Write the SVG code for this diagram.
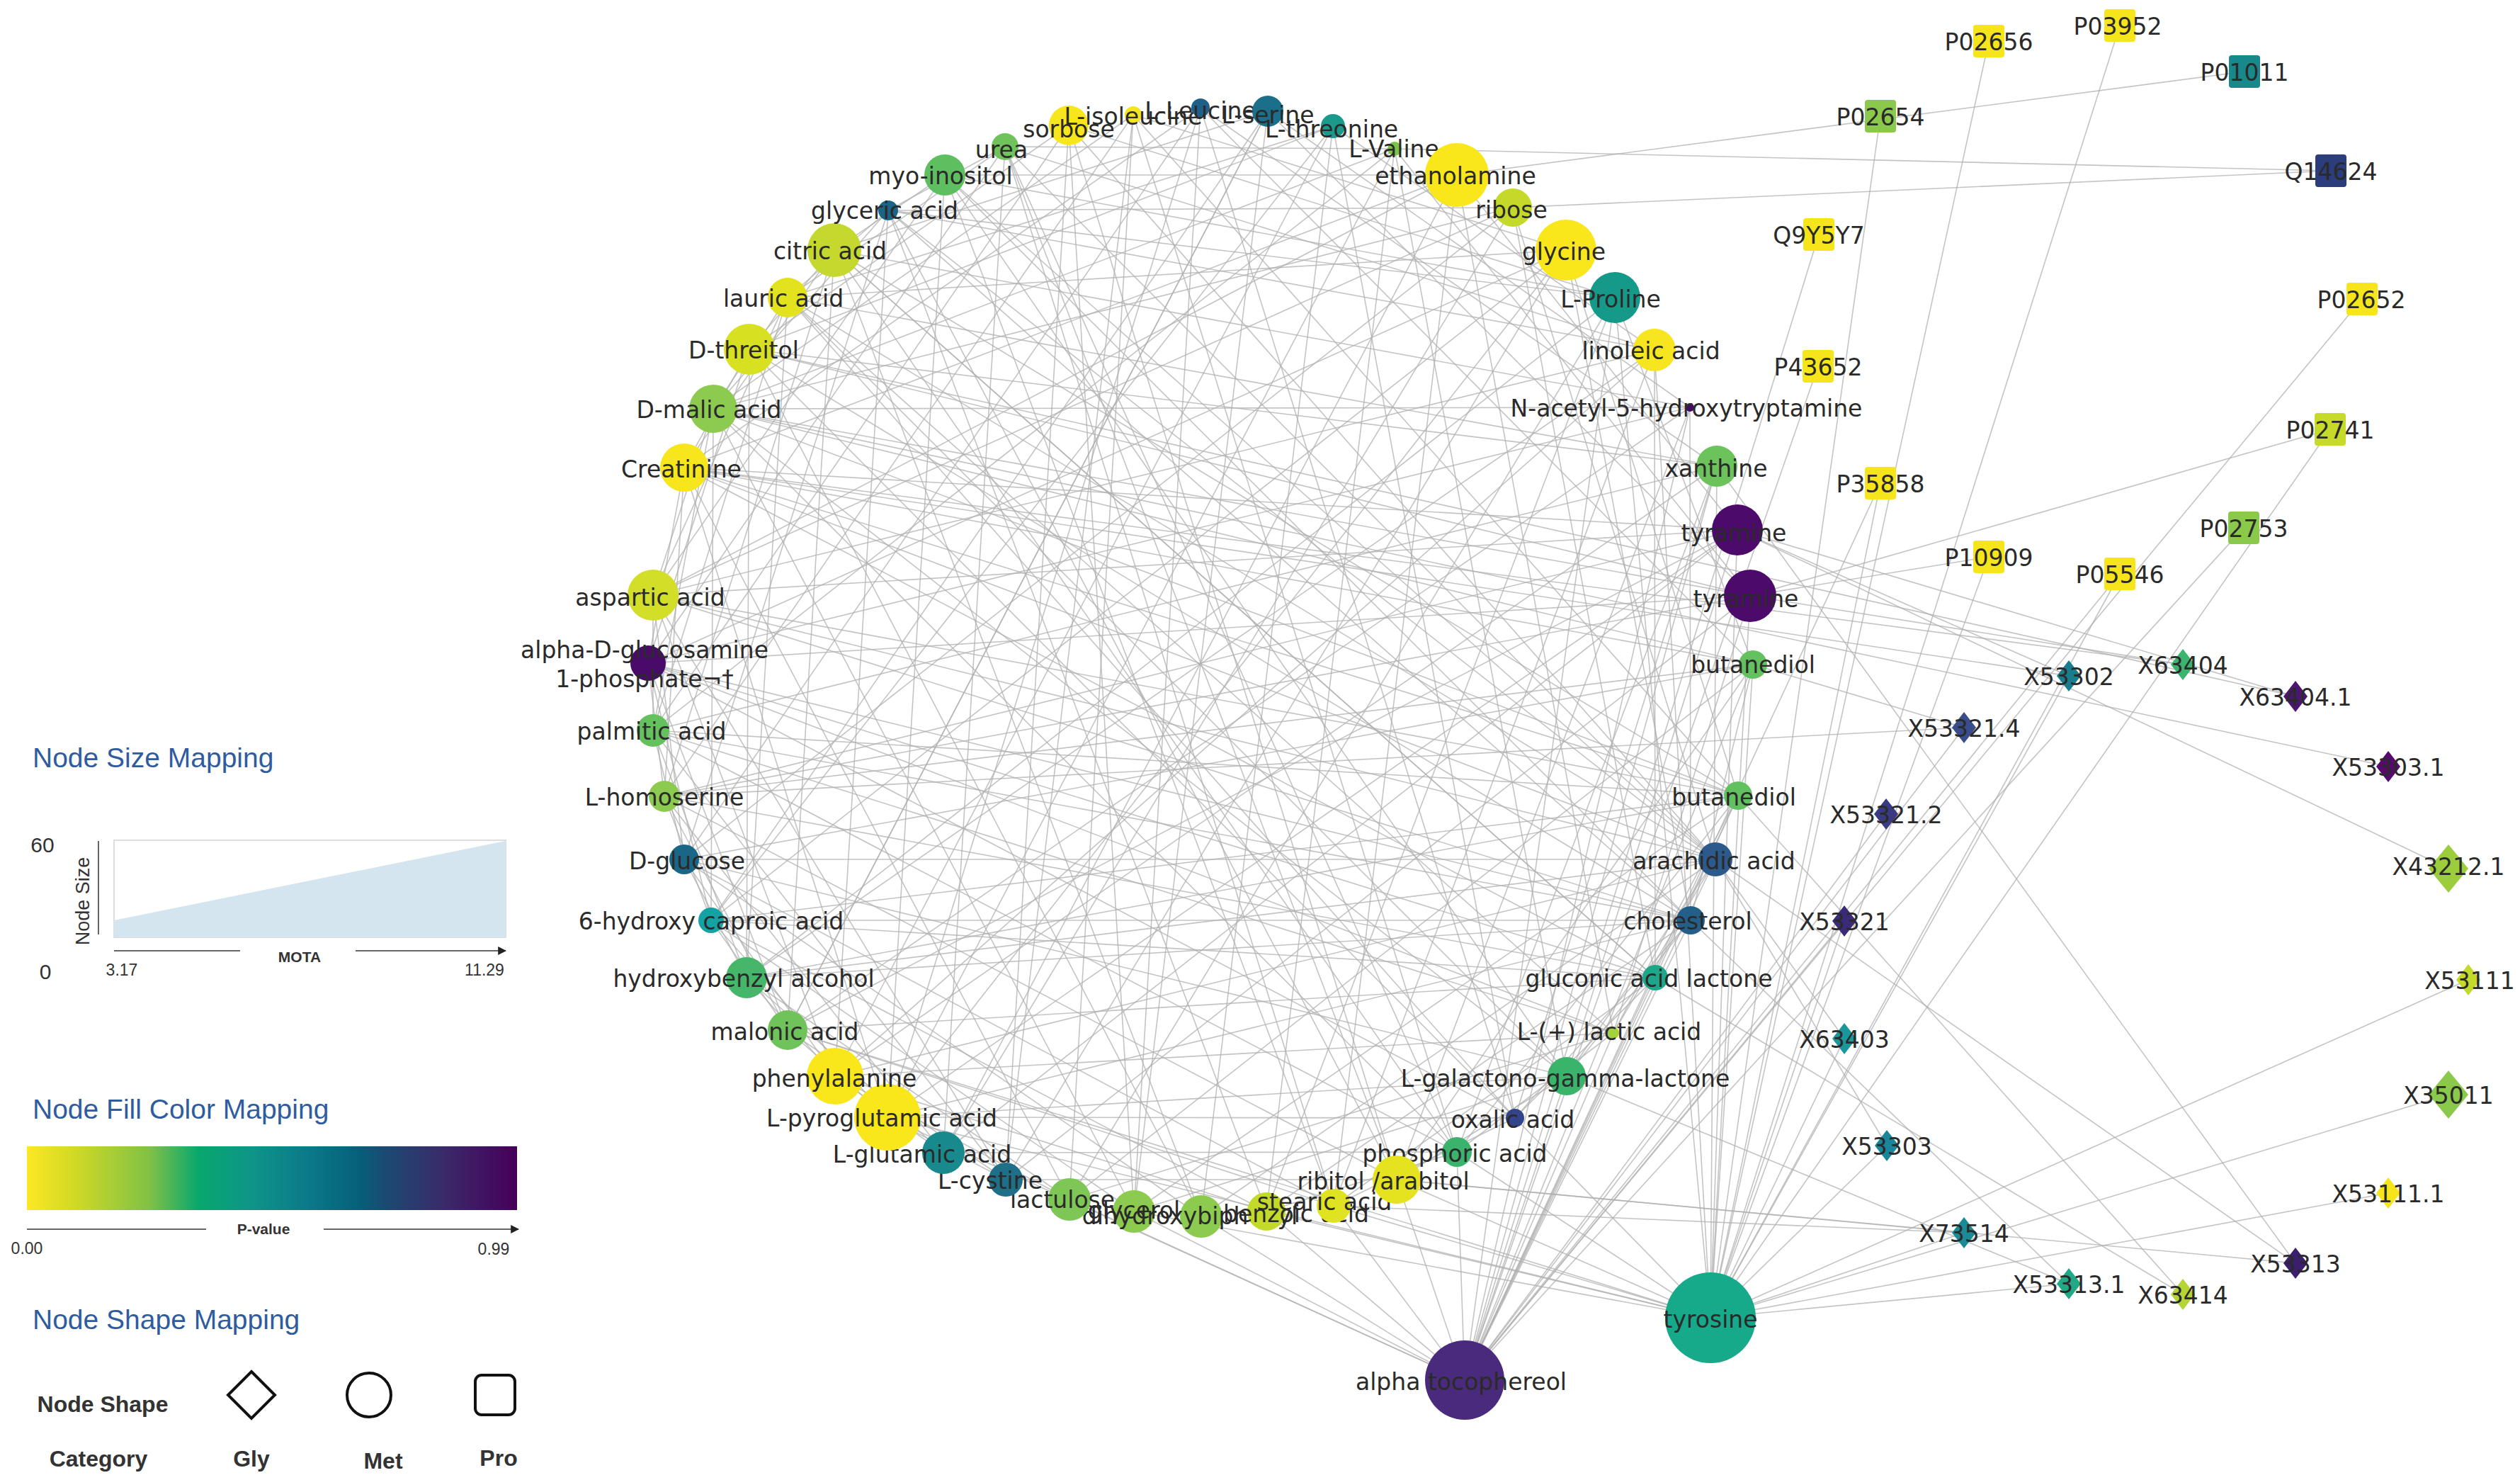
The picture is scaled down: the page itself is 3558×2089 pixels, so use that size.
<svg xmlns="http://www.w3.org/2000/svg" width="3558" height="2089" viewBox="0 0 3558 2089">
<style>
.e{stroke:#b0b0b0;stroke-width:1.6;opacity:.75;fill:none}
.t{font-family:"DejaVu Sans",sans-serif;font-size:33px;fill:#2a2a2a;text-anchor:middle;dominant-baseline:central}
.h{font-family:"Liberation Sans",Arial,sans-serif;font-size:39px;fill:#2f5c9e}
.lg{font-family:"Liberation Sans",Arial,sans-serif;fill:#333;text-anchor:middle}
.sh{fill:#fff;stroke:#111;stroke-width:4}
.ax{stroke:#666;stroke-width:2;fill:none}
</style>
<defs>
<linearGradient id="vir" x1="0" y1="0" x2="1" y2="0">
<stop offset="0" stop-color="#fde725"/>
<stop offset="0.1" stop-color="#cfd925"/>
<stop offset="0.25" stop-color="#80c146"/>
<stop offset="0.35" stop-color="#07a86c"/>
<stop offset="0.46" stop-color="#0e9489"/>
<stop offset="0.57" stop-color="#0b7a89"/>
<stop offset="0.68" stop-color="#065f7a"/>
<stop offset="0.73" stop-color="#1a4a72"/>
<stop offset="0.85" stop-color="#3a2a6a"/>
<stop offset="1" stop-color="#46005a"/>
</linearGradient>
<marker id="arr" viewBox="0 0 10 10" refX="9" refY="5" markerWidth="6" markerHeight="6" orient="auto"><path d="M0,0 L10,5 L0,10Z" fill="#222"/></marker>
<path id="dia" d="M0,-22 L17,0 L0,22 L-17,0Z"/>
<path id="diaL" d="M0,-34 L28,0 L0,34 L-28,0Z"/>
<rect id="sq" x="-22" y="-23" width="44" height="46" rx="4"/>
</defs>
<rect width="3558" height="2089" fill="#fff"/>

<g id="connectors">
<path class="e" d="M1509 177L2422 1213"/>
<path class="e" d="M1600 162L2454 1123"/>
<path class="e" d="M1695 152L2475 938"/>
<path class="e" d="M1790 157L2471 841"/>
<path class="e" d="M1882 178L2139 1578"/>
<path class="e" d="M1969 210L2212 1519"/>
<path class="e" d="M2057 247L2278 1458"/>
<path class="e" d="M2136 293L2337 1380"/>
<path class="e" d="M2211 353L2387 1299"/>
<path class="e" d="M2280 420L1788 1710"/>
<path class="e" d="M2336 494L1883 1702"/>
<path class="e" d="M2386 575L1972 1665"/>
<path class="e" d="M2424 658L2057 1626"/>
<path class="e" d="M2453 748L1332 1627"/>
<path class="e" d="M2471 841L1420 1665"/>
<path class="e" d="M2475 938L1510 1693"/>
<path class="e" d="M2454 1123L1601 1710"/>
<path class="e" d="M2422 1213L1696 1717"/>
<path class="e" d="M2387 1299L1054 1380"/>
<path class="e" d="M2337 1380L1112 1454"/>
<path class="e" d="M2278 1458L1179 1519"/>
<path class="e" d="M2212 1519L1253 1577"/>
<path class="e" d="M2139 1578L915 936"/>
<path class="e" d="M2057 1626L922 1031"/>
<path class="e" d="M1972 1665L938 1124"/>
<path class="e" d="M1883 1702L966 1213"/>
<path class="e" d="M1788 1710L1004 1299"/>
<path class="e" d="M1696 1717L1058 493"/>
<path class="e" d="M1601 1710L1007 577"/>
<path class="e" d="M1510 1693L966 660"/>
<path class="e" d="M1420 1665L922 840"/>
<path class="e" d="M1332 1627L1419 207"/>
<path class="e" d="M1253 1577L1334 247"/>
<path class="e" d="M1179 1519L1254 297"/>
<path class="e" d="M1112 1454L1178 353"/>
<path class="e" d="M1054 1380L1112 420"/>
<path class="e" d="M1004 1299L1790 157"/>
<path class="e" d="M966 1213L1695 152"/>
<path class="e" d="M938 1124L1600 162"/>
<path class="e" d="M922 1031L1509 177"/>
<path class="e" d="M915 936L2211 353"/>
<path class="e" d="M922 840L2136 293"/>
<path class="e" d="M966 660L2057 247"/>
<path class="e" d="M1007 577L1969 210"/>
<path class="e" d="M1058 493L1882 178"/>
<path class="e" d="M1112 420L2424 658"/>
<path class="e" d="M1178 353L2386 575"/>
<path class="e" d="M1254 297L2336 494"/>
<path class="e" d="M1334 247L2280 420"/>
<path class="e" d="M1419 207L2422 1213"/>
<path class="e" d="M1509 177L1972 1665"/>
<path class="e" d="M1600 162L2057 1626"/>
<path class="e" d="M1695 152L2139 1578"/>
<path class="e" d="M1790 157L1601 1710"/>
<path class="e" d="M1882 178L1696 1717"/>
<path class="e" d="M1969 210L1788 1710"/>
<path class="e" d="M2057 247L1883 1702"/>
<path class="e" d="M2136 293L1332 1627"/>
<path class="e" d="M2211 353L1420 1665"/>
<path class="e" d="M2280 420L1510 1693"/>
<path class="e" d="M2336 494L1054 1380"/>
<path class="e" d="M2386 575L1112 1454"/>
<path class="e" d="M2424 658L1179 1519"/>
<path class="e" d="M2453 748L1253 1577"/>
<path class="e" d="M2471 841L938 1124"/>
<path class="e" d="M2475 938L966 1213"/>
<path class="e" d="M2454 1123L1004 1299"/>
<path class="e" d="M2422 1213L966 660"/>
<path class="e" d="M2387 1299L922 840"/>
<path class="e" d="M2337 1380L915 936"/>
<path class="e" d="M2278 1458L922 1031"/>
<path class="e" d="M2212 1519L1112 420"/>
<path class="e" d="M2139 1578L1058 493"/>
<path class="e" d="M2057 1626L1007 577"/>
<path class="e" d="M1972 1665L1419 207"/>
<path class="e" d="M1883 1702L1334 247"/>
<path class="e" d="M1788 1710L1254 297"/>
<path class="e" d="M1696 1717L1178 353"/>
<path class="e" d="M1601 1710L1695 152"/>
<path class="e" d="M1510 1693L1600 162"/>
<path class="e" d="M1420 1665L1509 177"/>
<path class="e" d="M1332 1627L2057 247"/>
<path class="e" d="M1253 1577L1969 210"/>
<path class="e" d="M1179 1519L1882 178"/>
<path class="e" d="M1112 1454L1790 157"/>
<path class="e" d="M1054 1380L2280 420"/>
<path class="e" d="M1004 1299L2211 353"/>
<path class="e" d="M966 1213L2136 293"/>
<path class="e" d="M938 1124L2453 748"/>
<path class="e" d="M922 1031L2424 658"/>
<path class="e" d="M915 936L2386 575"/>
<path class="e" d="M922 840L2336 494"/>
<path class="e" d="M966 660L2454 1123"/>
<path class="e" d="M1007 577L2475 938"/>
<path class="e" d="M1058 493L2471 841"/>
<path class="e" d="M1112 420L2278 1458"/>
<path class="e" d="M1178 353L2337 1380"/>
<path class="e" d="M1254 297L2387 1299"/>
<path class="e" d="M1334 247L2422 1213"/>
<path class="e" d="M1419 207L2057 1626"/>
<path class="e" d="M1509 177L2280 420"/>
<path class="e" d="M1600 162L2211 353"/>
<path class="e" d="M1695 152L2424 658"/>
<path class="e" d="M1790 157L2386 575"/>
<path class="e" d="M1882 178L2336 494"/>
<path class="e" d="M1969 210L2471 841"/>
<path class="e" d="M2057 247L2453 748"/>
<path class="e" d="M2136 293L2422 1213"/>
<path class="e" d="M2211 353L2454 1123"/>
<path class="e" d="M2280 420L2475 938"/>
<path class="e" d="M2336 494L2337 1380"/>
<path class="e" d="M2386 575L2387 1299"/>
<path class="e" d="M2424 658L2139 1578"/>
<path class="e" d="M2453 748L2212 1519"/>
<path class="e" d="M2471 841L2278 1458"/>
<path class="e" d="M2475 938L1972 1665"/>
<path class="e" d="M2454 1123L2057 1626"/>
<path class="e" d="M2387 1299L1788 1710"/>
<path class="e" d="M2337 1380L1883 1702"/>
<path class="e" d="M2278 1458L1510 1693"/>
<path class="e" d="M2212 1519L1601 1710"/>
<path class="e" d="M2139 1578L1253 1577"/>
<path class="e" d="M2057 1626L1332 1627"/>
<path class="e" d="M1972 1665L1420 1665"/>
<path class="e" d="M1883 1702L1112 1454"/>
<path class="e" d="M1788 1710L1179 1519"/>
<path class="e" d="M1696 1717L966 1213"/>
<path class="e" d="M1601 1710L1004 1299"/>
<path class="e" d="M1510 1693L1054 1380"/>
<path class="e" d="M1420 1665L922 1031"/>
<path class="e" d="M1332 1627L938 1124"/>
<path class="e" d="M1253 1577L966 660"/>
<path class="e" d="M1179 1519L922 840"/>
<path class="e" d="M1112 1454L915 936"/>
<path class="e" d="M1054 1380L1058 493"/>
<path class="e" d="M1004 1299L1007 577"/>
<path class="e" d="M966 1213L1254 297"/>
<path class="e" d="M938 1124L1178 353"/>
<path class="e" d="M922 1031L1112 420"/>
<path class="e" d="M915 936L1419 207"/>
<path class="e" d="M922 840L1334 247"/>
<path class="e" d="M966 660L1695 152"/>
<path class="e" d="M1007 577L1600 162"/>
<path class="e" d="M1058 493L1509 177"/>
<path class="e" d="M1112 420L1882 178"/>
<path class="e" d="M1178 353L1790 157"/>
<path class="e" d="M1254 297L2136 293"/>
<path class="e" d="M1334 247L2057 247"/>
<path class="e" d="M1419 207L1969 210"/>
<path class="e" d="M1253 1577L2211 353"/>
<path class="e" d="M1179 1519L2336 494"/>
<path class="e" d="M1112 1454L2453 748"/>
<path class="e" d="M1054 1380L2422 1213"/>
<path class="e" d="M1004 1299L2337 1380"/>
<path class="e" d="M966 1213L2212 1519"/>
<path class="e" d="M938 1124L2475 938"/>
<path class="e" d="M922 1031L2387 1299"/>
<path class="e" d="M915 936L2278 1458"/>
<path class="e" d="M922 840L2454 1123"/>
<path class="e" d="M966 660L2337 1380"/>
<path class="e" d="M1007 577L2212 1519"/>
<path class="e" d="M1058 493L2387 1299"/>
<path class="e" d="M1112 420L2139 1578"/>
<path class="e" d="M1178 353L2057 1626"/>
<path class="e" d="M1254 297L1972 1665"/>
<path class="e" d="M1334 247L2212 1519"/>
<path class="e" d="M1419 207L1883 1702"/>
<path class="e" d="M1509 177L1601 1710"/>
<path class="e" d="M1600 162L1420 1665"/>
<path class="e" d="M1695 152L1253 1577"/>
<path class="e" d="M1790 157L1112 1454"/>
<path class="e" d="M1882 178L1004 1299"/>
<path class="e" d="M1969 210L922 1031"/>
<path class="e" d="M2057 247L922 840"/>
<path class="e" d="M2136 293L1007 577"/>
<path class="e" d="M2211 353L1112 420"/>
<path class="e" d="M2280 420L1254 297"/>
<path class="e" d="M2336 494L1419 207"/>
<path class="e" d="M2386 575L1007 577"/>
<path class="e" d="M1420 1665L1253 1577"/>
<path class="e" d="M1332 1627L1179 1519"/>
<path class="e" d="M1253 1577L1112 1454"/>
<path class="e" d="M1179 1519L1054 1380"/>
<path class="e" d="M1112 1454L1004 1299"/>
<path class="e" d="M1054 1380L966 1213"/>
<path class="e" d="M1004 1299L938 1124"/>
<path class="e" d="M966 1213L922 1031"/>
<path class="e" d="M938 1124L915 936"/>
<path class="e" d="M922 1031L922 840"/>
<path class="e" d="M915 936L966 660"/>
<path class="e" d="M922 840L1007 577"/>
<path class="e" d="M966 660L1058 493"/>
<path class="e" d="M1007 577L1112 420"/>
<path class="e" d="M1058 493L1178 353"/>
<path class="e" d="M1112 420L1254 297"/>
<path class="e" d="M1178 353L1334 247"/>
<path class="e" d="M1254 297L1419 207"/>
<path class="e" d="M1510 1693L1179 1519"/>
<path class="e" d="M1332 1627L1054 1380"/>
<path class="e" d="M1179 1519L966 1213"/>
<path class="e" d="M1054 1380L922 1031"/>
<path class="e" d="M966 1213L922 840"/>
<path class="e" d="M922 1031L1007 577"/>
<path class="e" d="M922 840L1112 420"/>
<path class="e" d="M1007 577L1254 297"/>
<path class="e" d="M1112 420L1419 207"/>
<path class="e" d="M1420 1665L1112 1454"/>
<path class="e" d="M1253 1577L1004 1299"/>
<path class="e" d="M1112 1454L938 1124"/>
<path class="e" d="M1004 1299L915 936"/>
<path class="e" d="M938 1124L966 660"/>
<path class="e" d="M915 936L1058 493"/>
<path class="e" d="M966 660L1178 353"/>
<path class="e" d="M2475 938L2387 1299"/>
<path class="e" d="M2454 1123L2337 1380"/>
<path class="e" d="M2422 1213L2278 1458"/>
<path class="e" d="M2387 1299L2212 1519"/>
<path class="e" d="M2337 1380L2139 1578"/>
<path class="e" d="M2278 1458L2057 1626"/>
<path class="e" d="M2212 1519L1972 1665"/>
<path class="e" d="M2454 1123L2278 1458"/>
<path class="e" d="M2422 1213L2212 1519"/>
<path class="e" d="M2387 1299L2139 1578"/>
<path class="e" d="M2139 1578L1883 1702"/>
<path class="e" d="M2057 1626L1788 1710"/>
<path class="e" d="M2454 1123L1054 1380"/>
<path class="e" d="M2454 1123L922 1031"/>
<path class="e" d="M2454 1123L1007 577"/>
<path class="e" d="M2422 1213L1179 1519"/>
<path class="e" d="M2422 1213L966 1213"/>
<path class="e" d="M2422 1213L922 840"/>
<path class="e" d="M2422 1213L1112 420"/>
<path class="e" d="M2387 1299L1253 1577"/>
<path class="e" d="M2387 1299L1004 1299"/>
<path class="e" d="M2387 1299L915 936"/>
<path class="e" d="M2337 1380L938 1124"/>
<path class="e" d="M2337 1380L1178 353"/>
<path class="e" d="M2454 1123L1178 353"/>
<path class="e" d="M2422 1213L1254 297"/>
<path class="e" d="M2387 1299L1334 247"/>
<path class="e" d="M2453 748L966 660"/>
<path class="e" d="M2471 841L1007 577"/>
<path class="e" d="M2453 748L922 840"/>
<path class="e" d="M2471 841L915 936"/>
<path class="e" d="M2475 938L966 660"/>
<path class="e" d="M2424 658L1058 493"/>
<path class="e" d="M2068 1948L2386 575"/>
<path class="e" d="M2068 1948L2424 658"/>
<path class="e" d="M2068 1948L2475 938"/>
<path class="e" d="M2068 1948L2454 1123"/>
<path class="e" d="M2068 1948L2422 1213"/>
<path class="e" d="M2068 1948L2387 1299"/>
<path class="e" d="M2068 1948L2337 1380"/>
<path class="e" d="M2068 1948L2278 1458"/>
<path class="e" d="M2068 1948L2212 1519"/>
<path class="e" d="M2068 1948L2057 1626"/>
<path class="e" d="M2068 1948L1972 1665"/>
<path class="e" d="M2068 1948L1883 1702"/>
<path class="e" d="M2068 1948L1788 1710"/>
<path class="e" d="M2068 1948L1696 1717"/>
<path class="e" d="M2068 1948L1601 1710"/>
<path class="e" d="M2068 1948L1510 1693"/>
<path class="e" d="M2068 1948L1253 1577"/>
<path class="e" d="M2068 1948L2280 420"/>
<path class="e" d="M2415 1860L2280 420"/>
<path class="e" d="M2415 1860L2336 494"/>
<path class="e" d="M2415 1860L2424 658"/>
<path class="e" d="M2415 1860L2453 748"/>
<path class="e" d="M2415 1860L2471 841"/>
<path class="e" d="M2415 1860L2475 938"/>
<path class="e" d="M2415 1860L2139 1578"/>
<path class="e" d="M2415 1860L2057 1626"/>
<path class="e" d="M2415 1860L1972 1665"/>
<path class="e" d="M2415 1860L1883 1702"/>
<path class="e" d="M2415 1860L1788 1710"/>
<path class="e" d="M2415 1860L1601 1710"/>
<path class="e" d="M2415 1860L1253 1577"/>
<path class="e" d="M2415 1860L1112 1454"/>
<path class="e" d="M2808 58L2415 1860"/>
<path class="e" d="M2993 36L2415 1860"/>
<path class="e" d="M2655 164L2415 1860"/>
<path class="e" d="M3169 101L2057 247"/>
<path class="e" d="M3291 241L1969 210"/>
<path class="e" d="M3291 241L2136 293"/>
<path class="e" d="M2568 331L2068 1948"/>
<path class="e" d="M2567 517L2068 1948"/>
<path class="e" d="M3335 422L2068 1948"/>
<path class="e" d="M3290 606L2471 841"/>
<path class="e" d="M3290 606L2415 1860"/>
<path class="e" d="M2655 682L2415 1860"/>
<path class="e" d="M2655 682L2068 1948"/>
<path class="e" d="M2808 786L2471 841"/>
<path class="e" d="M2808 786L2415 1860"/>
<path class="e" d="M2993 810L2068 1948"/>
<path class="e" d="M2993 810L2415 1860"/>
<path class="e" d="M3168 745L2068 1948"/>
<path class="e" d="M2921 954L966 660"/>
<path class="e" d="M2921 954L2415 1860"/>
<path class="e" d="M2921 954L2453 748"/>
<path class="e" d="M3082 938L966 660"/>
<path class="e" d="M3082 938L2471 841"/>
<path class="e" d="M3241 983L2453 748"/>
<path class="e" d="M3241 983L1058 493"/>
<path class="e" d="M3372 1082L1007 577"/>
<path class="e" d="M2773 1027L2475 938"/>
<path class="e" d="M2773 1027L2068 1948"/>
<path class="e" d="M2773 1027L938 1124"/>
<path class="e" d="M2663 1149L2068 1948"/>
<path class="e" d="M3457 1226L2453 748"/>
<path class="e" d="M2604 1300L2068 1948"/>
<path class="e" d="M2604 1300L2415 1860"/>
<path class="e" d="M3485 1383L2415 1860"/>
<path class="e" d="M2604 1466L2415 1860"/>
<path class="e" d="M2604 1466L2422 1213"/>
<path class="e" d="M3457 1545L2415 1860"/>
<path class="e" d="M2664 1617L2422 1213"/>
<path class="e" d="M2664 1617L2415 1860"/>
<path class="e" d="M3372 1684L2415 1860"/>
<path class="e" d="M2773 1740L1972 1665"/>
<path class="e" d="M2773 1740L1883 1702"/>
<path class="e" d="M2773 1740L2415 1860"/>
<path class="e" d="M3241 1783L2424 658"/>
<path class="e" d="M3241 1783L2422 1213"/>
<path class="e" d="M3241 1783L1972 1665"/>
<path class="e" d="M2921 1812L2212 1519"/>
<path class="e" d="M2921 1812L2415 1860"/>
<path class="e" d="M2921 1812L2387 1299"/>
<path class="e" d="M3082 1827L2337 1380"/>
<path class="e" d="M3082 1827L2454 1123"/>
</g>

<g id="legend">
<text class="h" x="46" y="1083">Node Size Mapping</text>
<text class="lg" x="60" y="1203" font-size="30">60</text>
<text class="lg" x="64" y="1382" font-size="30">0</text>
<text class="lg" x="0" y="0" font-size="27" transform="translate(126,1272) rotate(-90)">Node Size</text>
<line class="ax" x1="139" y1="1187" x2="139" y2="1319"/>
<rect x="161" y="1186" width="553" height="137" fill="#fff" stroke="#ddd" stroke-width="2"/>
<polygon points="161,1323 161,1299 714,1187 714,1323" fill="#d5e5f0"/>
<line class="ax" x1="161" y1="1342" x2="339" y2="1342"/>
<text class="lg" x="423" y="1358" font-size="21" font-weight="bold">MOTA</text>
<line class="ax" x1="502" y1="1342" x2="714" y2="1342" marker-end="url(#arr)"/>
<text class="lg" x="172" y="1377" font-size="23">3.17</text>
<text class="lg" x="684" y="1377" font-size="23">11.29</text>

<text class="h" x="46" y="1579">Node Fill Color Mapping</text>
<rect x="38" y="1618" width="692" height="90" fill="url(#vir)"/>
<line class="ax" x1="38" y1="1735" x2="291" y2="1735"/>
<text class="lg" x="372" y="1742" font-size="21" font-weight="bold">P-value</text>
<line class="ax" x1="457" y1="1735" x2="732" y2="1735" marker-end="url(#arr)"/>
<text class="lg" x="38" y="1770" font-size="23">0.00</text>
<text class="lg" x="697" y="1771" font-size="23">0.99</text>

<text class="h" x="46" y="1876">Node Shape Mapping</text>
<text class="lg" x="145" y="1993" font-size="32" font-weight="bold" fill="#222">Node Shape</text>
<text class="lg" x="139" y="2070" font-size="32" font-weight="bold" fill="#222">Category</text>
<polygon class="sh" points="355,1936 388,1969 355,2002 322,1969"/>
<circle class="sh" cx="521" cy="1969" r="31"/>
<rect class="sh" x="671" y="1941" width="56" height="56" rx="9"/>
<text class="lg" x="355" y="2070" font-size="32" font-weight="bold" fill="#222">Gly</text>
<text class="lg" x="541" y="2073" font-size="32" font-weight="bold" fill="#222">Met</text>
<text class="lg" x="704" y="2069" font-size="32" font-weight="bold" fill="#222">Pro</text>
</g>

<g id="n-sorbose"><circle cx="1509" cy="177" r="28" fill="#f8e61d"/><text class="t" x="1509" y="182">sorbose</text></g>
<g id="n-isoleucine"><circle cx="1600" cy="162" r="12" fill="#f4e51f"/><text class="t" x="1600" y="164">L-isoleucine</text></g>
<g id="n-leucine"><circle cx="1695" cy="152" r="13" fill="#1f5f88"/><text class="t" x="1695" y="156">L-Leucine</text></g>
<g id="n-serine"><circle cx="1790" cy="157" r="22" fill="#1c6f8a"/><text class="t" x="1790" y="162">L-serine</text></g>
<g id="n-threonine"><circle cx="1882" cy="178" r="17" fill="#1a9a8b"/><text class="t" x="1880" y="182">L-threonine</text></g>
<g id="n-valine"><circle cx="1969" cy="210" r="10" fill="#7cc449"/><text class="t" x="1968" y="210">L-Valine</text></g>
<g id="n-ethanolamine"><circle cx="2057" cy="247" r="45" fill="#f9e71c"/><text class="t" x="2055" y="248">ethanolamine</text></g>
<g id="n-ribose"><circle cx="2136" cy="293" r="27" fill="#c5d92b"/><text class="t" x="2134" y="296">ribose</text></g>
<g id="n-glycine"><circle cx="2211" cy="353" r="43" fill="#f9e71c"/><text class="t" x="2208" y="355">glycine</text></g>
<g id="n-proline"><circle cx="2280" cy="420" r="36" fill="#159a8a"/><text class="t" x="2274" y="422">L-Proline</text></g>
<g id="n-linoleic"><circle cx="2336" cy="494" r="30" fill="#f6e51f"/><text class="t" x="2331" y="495">linoleic acid</text></g>
<g id="n-nacetyl"><circle cx="2386" cy="575" r="6" fill="#440a68"/><text class="t" x="2381" y="576">N-acetyl-5-hydroxytryptamine</text></g>
<g id="n-xanthine"><circle cx="2424" cy="658" r="29" fill="#6cc35c"/><text class="t" x="2423" y="661">xanthine</text></g>
<g id="n-tyramine1"><circle cx="2453" cy="748" r="36" fill="#4c0a6a"/><text class="t" x="2448" y="752">tyramine</text></g>
<g id="n-tyramine2"><circle cx="2471" cy="841" r="37" fill="#4c0a6a"/><text class="t" x="2465" y="845">tyramine</text></g>
<g id="n-butanediol1"><circle cx="2475" cy="938" r="20" fill="#64c160"/><text class="t" x="2475" y="938">butanediol</text></g>
<g id="n-butanediol2"><circle cx="2454" cy="1123" r="20" fill="#62c060"/><text class="t" x="2448" y="1125">butanediol</text></g>
<g id="n-arachidic"><circle cx="2422" cy="1213" r="24" fill="#2c5a8c"/><text class="t" x="2420" y="1215">arachidic acid</text></g>
<g id="n-cholesterol"><circle cx="2387" cy="1299" r="20" fill="#235f89"/><text class="t" x="2383" y="1300">cholesterol</text></g>
<g id="n-gluconic"><circle cx="2337" cy="1380" r="18" fill="#1ea688"/><text class="t" x="2328" y="1381">gluconic acid lactone</text></g>
<g id="n-lactic"><circle cx="2278" cy="1458" r="8" fill="#a4d23a"/><text class="t" x="2272" y="1456">L-(+) lactic acid</text></g>
<g id="n-galactono"><circle cx="2212" cy="1519" r="27" fill="#3bb46b"/><text class="t" x="2210" y="1522">L-galactono-gamma-lactone</text></g>
<g id="n-oxalic"><circle cx="2139" cy="1578" r="13" fill="#34448b"/><text class="t" x="2136" y="1580">oxalic acid</text></g>
<g id="n-phosphoric"><circle cx="2057" cy="1626" r="21" fill="#3cb36c"/><text class="t" x="2054" y="1628">phosphoric acid</text></g>
<g id="n-glycerol"><circle cx="1601" cy="1710" r="30" fill="#8dcb50"/><text class="t" x="1601" y="1708">glycerol</text></g>
<g id="n-dihydroxybiphenyl"><circle cx="1696" cy="1717" r="30" fill="#8dcb50"/><text class="t" x="1680" y="1716">dihydroxybiphenyl</text></g>
<g id="n-c27"><circle cx="1788" cy="1710" r="27" fill="#c4da2b"/><text class="t" x="1830" y="1713">benzoic acid</text></g>
<g id="n-stearic"><circle cx="1883" cy="1702" r="24" fill="#e0e321"/><text class="t" x="1870" y="1696">stearic acid</text></g>
<g id="n-ribitol"><circle cx="1972" cy="1665" r="34" fill="#e5e31f"/><text class="t" x="1953" y="1667">ribitol /arabitol</text></g>
<g id="n-lactulose"><circle cx="1510" cy="1693" r="30" fill="#7ec655"/><text class="t" x="1500" y="1693">lactulose</text></g>
<g id="n-cystine"><circle cx="1420" cy="1665" r="24" fill="#1e6f88"/><text class="t" x="1398" y="1666">L-cystine</text></g>
<g id="n-glutamic"><circle cx="1332" cy="1627" r="30" fill="#188a8e"/><text class="t" x="1302" y="1629">L-glutamic acid</text></g>
<g id="n-pyroglutamic"><circle cx="1253" cy="1577" r="47" fill="#f9e71c"/><text class="t" x="1245" y="1578">L-pyroglutamic acid</text></g>
<g id="n-phenylalanine"><circle cx="1179" cy="1519" r="40" fill="#f9e71c"/><text class="t" x="1178" y="1522">phenylalanine</text></g>
<g id="n-malonic"><circle cx="1112" cy="1454" r="28" fill="#6fc35a"/><text class="t" x="1108" y="1456">malonic acid</text></g>
<g id="n-hydroxybenzyl"><circle cx="1054" cy="1380" r="29" fill="#46b76a"/><text class="t" x="1050" y="1381">hydroxybenzyl alcohol</text></g>
<g id="n-hydroxycaproic"><circle cx="1004" cy="1299" r="18" fill="#14a2a4"/><text class="t" x="1004" y="1300">6-hydroxy caproic acid</text></g>
<g id="n-glucose"><circle cx="966" cy="1213" r="21" fill="#1a6686"/><text class="t" x="970" y="1215">D-glucose</text></g>
<g id="n-homoserine"><circle cx="938" cy="1124" r="22" fill="#8ccb4f"/><text class="t" x="938" y="1125">L-homoserine</text></g>
<g id="n-palmitic"><circle cx="922" cy="1031" r="23" fill="#64c15e"/><text class="t" x="920" y="1032">palmitic acid</text></g>
<g id="n-glucosamine"><circle cx="915" cy="936" r="25" fill="#4a0a6a"/><text class="t" x="910" y="917">alpha-D-glucosamine</text><text class="t" x="910" y="958">1-phosphate¬†</text></g>
<g id="n-aspartic"><circle cx="922" cy="840" r="36" fill="#d3de28"/><text class="t" x="918" y="843">aspartic acid</text></g>
<g id="n-creatinine"><circle cx="966" cy="660" r="34" fill="#f7e61c"/><text class="t" x="962" y="662">Creatinine</text></g>
<g id="n-malic"><circle cx="1007" cy="577" r="34" fill="#8ccb4f"/><text class="t" x="1001" y="578">D-malic acid</text></g>
<g id="n-threitol"><circle cx="1058" cy="493" r="36" fill="#d8e022"/><text class="t" x="1050" y="494">D-threitol</text></g>
<g id="n-lauric"><circle cx="1112" cy="420" r="28" fill="#e2e31e"/><text class="t" x="1106" y="421">lauric acid</text></g>
<g id="n-citric"><circle cx="1178" cy="353" r="38" fill="#c5d82d"/><text class="t" x="1172" y="354">citric acid</text></g>
<g id="n-glyceric"><circle cx="1254" cy="297" r="14" fill="#1a6486"/><text class="t" x="1249" y="297">glyceric acid</text></g>
<g id="n-inositol"><circle cx="1334" cy="247" r="29" fill="#5ebf60"/><text class="t" x="1328" y="248">myo-inositol</text></g>
<g id="n-urea"><circle cx="1419" cy="207" r="19" fill="#6fc35a"/><text class="t" x="1414" y="211">urea</text></g>
<g id="n-tocophereol"><circle cx="2068" cy="1948" r="56" fill="#4a2a7c"/><text class="t" x="2063" y="1950">alpha tocophereol</text></g>
<g id="n-tyrosine"><circle cx="2415" cy="1860" r="64" fill="#16a98a"/><text class="t" x="2415" y="1862">tyrosine</text></g>

<g id="p-P02656"><use href="#sq" x="2808" y="58" fill="#f5e51a"/><text class="t" x="2808" y="59">P02656</text></g>
<g id="p-P03952"><use href="#sq" x="2993" y="36" fill="#f5e51a"/><text class="t" x="2990" y="37">P03952</text></g>
<g id="p-P01011"><use href="#sq" x="3169" y="101" fill="#17898b"/><text class="t" x="3169" y="102">P01011</text></g>
<g id="p-P02654"><use href="#sq" x="2655" y="164" fill="#8bc94c"/><text class="t" x="2655" y="165">P02654</text></g>
<g id="p-Q14624"><use href="#sq" x="3291" y="241" fill="#2b3d7c"/><text class="t" x="3291" y="242">Q14624</text></g>
<g id="p-Q9Y5Y7"><use href="#sq" x="2568" y="331" fill="#f5e51a"/><text class="t" x="2568" y="332">Q9Y5Y7</text></g>
<g id="p-P02652"><use href="#sq" x="3335" y="422" fill="#f5e51a"/><text class="t" x="3334" y="423">P02652</text></g>
<g id="p-P43652"><use href="#sq" x="2567" y="517" fill="#f5e51a"/><text class="t" x="2567" y="518">P43652</text></g>
<g id="p-P02741"><use href="#sq" x="3290" y="606" fill="#c6da2a"/><text class="t" x="3290" y="607">P02741</text></g>
<g id="p-P35858"><use href="#sq" x="2655" y="682" fill="#f5e51a"/><text class="t" x="2655" y="683">P35858</text></g>
<g id="p-P02753"><use href="#sq" x="3168" y="745" fill="#8bc94c"/><text class="t" x="3168" y="746">P02753</text></g>
<g id="p-P10909"><use href="#sq" x="2808" y="786" fill="#f5e51a"/><text class="t" x="2808" y="787">P10909</text></g>
<g id="p-P05546"><use href="#sq" x="2993" y="810" fill="#f5e51a"/><text class="t" x="2993" y="811">P05546</text></g>

<g id="g-X53302"><use href="#dia" x="2921" y="954" fill="#1a7d8e"/><text class="t" x="2921" y="955">X53302</text></g>
<g id="g-X63404"><use href="#dia" x="3082" y="938" fill="#3ab56d"/><text class="t" x="3082" y="939">X63404</text></g>
<g id="g-X63404.1"><use href="#dia" x="3241" y="983" fill="#4b176e"/><text class="t" x="3241" y="984">X63404.1</text></g>
<g id="g-X53321.4"><use href="#dia" x="2773" y="1027" fill="#394c8c"/><text class="t" x="2773" y="1028">X53321.4</text></g>
<g id="g-X53303.1"><use href="#dia" x="3372" y="1082" fill="#560a6c"/><text class="t" x="3372" y="1083">X53303.1</text></g>
<g id="g-X53321.2"><use href="#dia" x="2663" y="1149" fill="#3a3a82"/><text class="t" x="2663" y="1150">X53321.2</text></g>
<g id="g-X43212.1"><use href="#diaL" x="3457" y="1226" fill="#9bcd3d"/><text class="t" x="3457" y="1223">X43212.1</text></g>
<g id="g-X53321"><use href="#dia" x="2604" y="1300" fill="#3b2a78"/><text class="t" x="2604" y="1301">X53321</text></g>
<g id="g-X53111"><use href="#dia" x="3485" y="1383" fill="#c4da2a"/><text class="t" x="3487" y="1384">X53111</text></g>
<g id="g-X63403"><use href="#dia" x="2604" y="1466" fill="#1b969a"/><text class="t" x="2604" y="1467">X63403</text></g>
<g id="g-X35011"><use href="#diaL" x="3457" y="1545" fill="#8bc94c"/><text class="t" x="3457" y="1546">X35011</text></g>
<g id="g-X53303"><use href="#dia" x="2664" y="1617" fill="#1a869a"/><text class="t" x="2664" y="1618">X53303</text></g>
<g id="g-X53111.1"><use href="#dia" x="3372" y="1684" fill="#f5e51a"/><text class="t" x="3372" y="1685">X53111.1</text></g>
<g id="g-X73514"><use href="#dia" x="2773" y="1740" fill="#1a8b96"/><text class="t" x="2773" y="1741">X73514</text></g>
<g id="g-X53313"><use href="#dia" x="3241" y="1783" fill="#3b1f6d"/><text class="t" x="3241" y="1784">X53313</text></g>
<g id="g-X53313.1"><use href="#dia" x="2921" y="1812" fill="#1fa985"/><text class="t" x="2921" y="1813">X53313.1</text></g>
<g id="g-X63414"><use href="#dia" x="3082" y="1827" fill="#b4d534"/><text class="t" x="3082" y="1828">X63414</text></g>
</svg>
